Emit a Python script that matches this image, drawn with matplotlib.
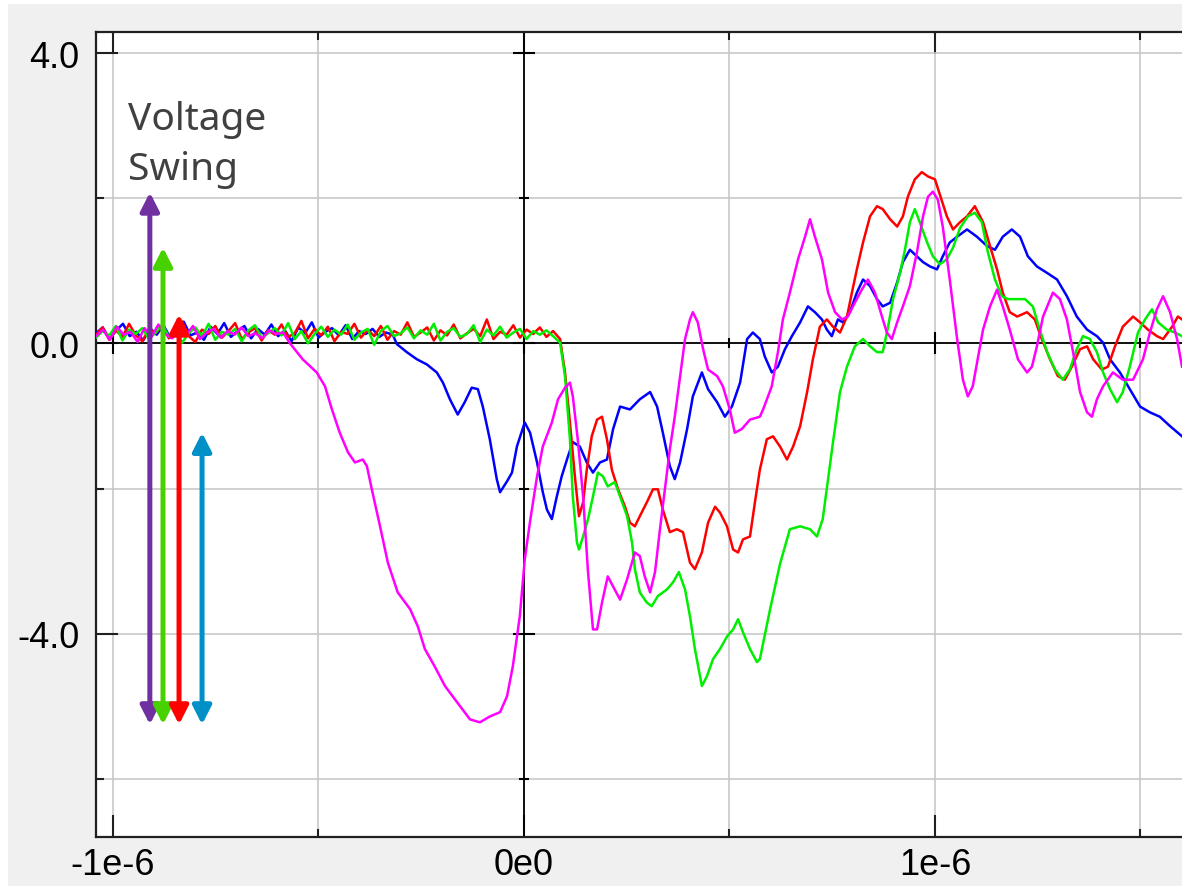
import numpy as np
import matplotlib.pyplot as plt
from matplotlib.patches import Rectangle

# time axis in microseconds, voltages in V
x_major = [-1.0, 0.0, 1.0]
x_minor = [-0.5, 0.5, 1.5]
x_labels = ['-1e-6', '0e0', '1e-6']
y_major = [4.0, 0.0, -4.0]
y_minor = [2.0, -2.0, -6.0]
y_labels = ['4.0', '0.0', '-4.0']

# noisy baseline before each trace starts to move (sampled evenly up to *_flat_end)
blue_flat_end = -0.319
blue_flat = [0.14, 0.22, 0.06, 0.18, 0.27, 0.10, 0.16, 0.04, 0.21, 0.12, 0.25, 0.08,
             0.19, 0.30, 0.11, 0.15, 0.05, 0.23, 0.13, 0.28, 0.09, 0.17, 0.24, 0.07,
             0.20, 0.12, 0.26, 0.10, 0.18, 0.03, 0.22, 0.14, 0.29, 0.08, 0.16, 0.21,
             0.11, 0.25, 0.06, 0.17, 0.13, 0.20, 0.09, 0.15, 0.12]
magenta_flat_end = -0.586
magenta_flat = [0.10, 0.19, 0.05, 0.23, 0.12, 0.16, 0.02, 0.21, 0.09, 0.26, 0.13, 0.07,
                0.18, 0.11, 0.24, 0.06, 0.15, 0.20, 0.08, 0.17, 0.12, 0.22, 0.10, 0.14,
                0.07, 0.18, 0.13, 0.15]
red_flat_end = 0.071
red_flat = [0.12, 0.22, 0.05, 0.18, 0.09, 0.27, 0.11, 0.03, 0.20, 0.14, 0.25, 0.07,
            0.16, 0.30, 0.10, 0.02, 0.19, 0.13, 0.24, 0.08, 0.17, 0.28, 0.06, 0.15,
            0.21, 0.04, 0.18, 0.12, 0.26, 0.09, 0.14, 0.31, 0.07, 0.20, 0.11, 0.23,
            0.03, 0.16, 0.13, 0.27, 0.08, 0.19, 0.10, 0.24, 0.05, 0.17, 0.12, 0.29,
            0.09, 0.15, 0.22, 0.04, 0.18, 0.11, 0.26, 0.07, 0.14, 0.20, 0.10, 0.33,
            0.06, 0.16, 0.12, 0.25, 0.08, 0.19, 0.13, 0.22, 0.09, 0.17]
green_flat_end = 0.071
green_flat = [0.08, 0.17, 0.11, 0.24, 0.04, 0.19, 0.13, 0.21, 0.06, 0.15, 0.26, 0.09,
              0.18, 0.01, 0.14, 0.22, 0.10, 0.27, 0.05, 0.16, 0.12, 0.20, 0.03, 0.18,
              0.25, 0.08, 0.14, 0.21, 0.11, 0.28, 0.06, 0.17, 0.00, 0.13, 0.23, 0.09,
              0.19, 0.12, 0.26, 0.05, 0.15, 0.20, -0.02, 0.17, 0.24, 0.10, 0.14, 0.22,
              0.07, 0.18, 0.12, 0.27, 0.04, 0.16, 0.21, 0.09, 0.13, 0.25, 0.02, 0.19,
              0.11, 0.23, 0.08, 0.15, 0.20, 0.06, 0.17, 0.12, 0.18, 0.10]

# active part of each trace
blue_t = [-0.309, -0.285, -0.260, -0.236, -0.212, -0.197, -0.180, -0.161, -0.144, -0.127,
          -0.112, -0.100, -0.083, -0.066, -0.058, -0.041, -0.029, -0.017, 0.002, 0.015,
          0.032, 0.046, 0.056, 0.068, 0.080, 0.092, 0.107, 0.119, 0.136, 0.153,
          0.168, 0.185, 0.202, 0.217, 0.234, 0.258, 0.282, 0.307, 0.324, 0.338,
          0.355, 0.367, 0.380, 0.397, 0.411, 0.433, 0.448, 0.470, 0.489, 0.506,
          0.526, 0.543, 0.557, 0.574, 0.586, 0.603, 0.618, 0.635, 0.652, 0.672,
          0.691, 0.708, 0.725, 0.737, 0.749, 0.764, 0.776, 0.793, 0.810, 0.825,
          0.842, 0.859, 0.873, 0.891, 0.908, 0.922, 0.939, 0.956, 0.971, 0.988,
          1.005, 1.019, 1.036, 1.054, 1.078, 1.102, 1.127, 1.146, 1.165, 1.187,
          1.207, 1.226, 1.248, 1.273, 1.297, 1.321, 1.345, 1.370, 1.394, 1.409,
          1.426, 1.450, 1.474, 1.499, 1.523, 1.547, 1.572, 1.601]
blue_v = [-0.01, -0.12, -0.22, -0.29, -0.40, -0.54, -0.77, -0.98, -0.81, -0.61,
          -0.63, -0.87, -1.32, -1.87, -2.05, -1.90, -1.78, -1.42, -1.09, -1.23,
          -1.64, -2.05, -2.29, -2.42, -2.11, -1.83, -1.56, -1.36, -1.42, -1.64,
          -1.78, -1.64, -1.60, -1.18, -0.87, -0.91, -0.77, -0.67, -0.87, -1.23,
          -1.69, -1.87, -1.64, -1.18, -0.73, -0.40, -0.63, -0.81, -1.01, -0.87,
          -0.54, 0.06, 0.15, 0.06, -0.18, -0.40, -0.32, -0.08, 0.10, 0.29,
          0.51, 0.43, 0.33, 0.19, 0.10, 0.33, 0.29, 0.43, 0.70, 0.88,
          0.79, 0.61, 0.51, 0.56, 0.84, 1.12, 1.29, 1.20, 1.12, 1.06,
          1.02, 1.20, 1.39, 1.47, 1.57, 1.47, 1.34, 1.29, 1.47, 1.57,
          1.47, 1.20, 1.06, 0.97, 0.88, 0.65, 0.37, 0.19, 0.10, 0.01,
          -0.22, -0.40, -0.63, -0.87, -0.95, -1.01, -1.14, -1.28]

red_t = [0.088, 0.100, 0.112, 0.124, 0.134, 0.144, 0.153, 0.165, 0.178, 0.190,
         0.202, 0.214, 0.229, 0.246, 0.258, 0.270, 0.282, 0.299, 0.314, 0.326,
         0.338, 0.355, 0.372, 0.387, 0.404, 0.416, 0.433, 0.448, 0.465, 0.477,
         0.494, 0.509, 0.521, 0.533, 0.550, 0.562, 0.574, 0.591, 0.606, 0.623,
         0.640, 0.655, 0.672, 0.689, 0.703, 0.720, 0.737, 0.752, 0.769, 0.786,
         0.798, 0.810, 0.825, 0.842, 0.859, 0.873, 0.891, 0.908, 0.922, 0.934,
         0.951, 0.968, 0.983, 1.000, 1.012, 1.029, 1.044, 1.061, 1.078, 1.097,
         1.117, 1.134, 1.151, 1.165, 1.182, 1.200, 1.224, 1.243, 1.260, 1.280,
         1.299, 1.316, 1.333, 1.353, 1.370, 1.385, 1.406, 1.421, 1.438, 1.457,
         1.482, 1.499, 1.518, 1.540, 1.555, 1.577, 1.591, 1.601]
red_v = [0.06, -0.40, -1.09, -1.83, -2.38, -2.19, -1.74, -1.28, -1.05, -1.01,
         -1.32, -1.74, -2.01, -2.25, -2.47, -2.52, -2.38, -2.19, -2.01, -2.01,
         -2.29, -2.60, -2.56, -2.60, -3.02, -3.11, -2.88, -2.47, -2.25, -2.33,
         -2.52, -2.84, -2.88, -2.70, -2.66, -2.19, -1.74, -1.32, -1.28, -1.42,
         -1.60, -1.42, -1.14, -0.67, -0.22, 0.23, 0.33, 0.23, 0.15, 0.37,
         0.70, 1.02, 1.39, 1.75, 1.89, 1.85, 1.71, 1.61, 1.75, 2.02,
         2.26, 2.36, 2.30, 2.26, 2.05, 1.75, 1.57, 1.67, 1.75, 1.89,
         1.67, 1.34, 1.02, 0.70, 0.43, 0.37, 0.43, 0.33, 0.06, -0.22,
         -0.45, -0.50, -0.32, -0.08, -0.04, -0.22, -0.36, -0.32, -0.04, 0.23,
         0.37, 0.29, 0.19, 0.10, 0.06, 0.23, 0.37, 0.33]

green_t = [0.088, 0.100, 0.112, 0.119, 0.129, 0.134, 0.144, 0.156, 0.168, 0.180,
           0.192, 0.204, 0.221, 0.234, 0.251, 0.263, 0.270, 0.282, 0.299, 0.311,
           0.326, 0.348, 0.363, 0.377, 0.392, 0.404, 0.416, 0.433, 0.445, 0.460,
           0.477, 0.494, 0.509, 0.521, 0.533, 0.550, 0.567, 0.574, 0.599, 0.623,
           0.647, 0.672, 0.696, 0.713, 0.727, 0.740, 0.752, 0.769, 0.786, 0.805,
           0.825, 0.842, 0.859, 0.873, 0.886, 0.898, 0.915, 0.927, 0.939, 0.951,
           0.963, 0.981, 0.995, 1.012, 1.029, 1.044, 1.061, 1.080, 1.097, 1.114,
           1.129, 1.146, 1.163, 1.178, 1.200, 1.219, 1.238, 1.255, 1.273, 1.292,
           1.311, 1.328, 1.345, 1.360, 1.377, 1.394, 1.409, 1.426, 1.443, 1.457,
           1.474, 1.494, 1.511, 1.528, 1.543, 1.564, 1.584, 1.601]
green_v = [0.01, -0.45, -1.32, -2.11, -2.74, -2.84, -2.66, -2.42, -2.11, -1.78,
           -1.83, -1.97, -1.91, -2.11, -2.38, -2.74, -3.11, -3.43, -3.57, -3.62,
           -3.48, -3.39, -3.29, -3.15, -3.39, -3.76, -4.21, -4.72, -4.59, -4.35,
           -4.21, -4.04, -3.94, -3.80, -3.98, -4.21, -4.39, -4.35, -3.66, -3.04,
           -2.56, -2.52, -2.56, -2.66, -2.42, -1.87, -1.36, -0.67, -0.32, -0.04,
           0.06, -0.04, -0.12, -0.12, 0.23, 0.61, 0.97, 1.29, 1.67, 1.85,
           1.67, 1.39, 1.20, 1.09, 1.16, 1.32, 1.59, 1.75, 1.80, 1.67,
           1.25, 0.88, 0.65, 0.61, 0.61, 0.61, 0.51, 0.19, -0.12, -0.36,
           -0.50, -0.36, -0.08, 0.10, 0.06, -0.12, -0.40, -0.63, -0.81, -0.67,
           -0.32, 0.15, 0.33, 0.47, 0.29, 0.19, 0.15, 0.10]

magenta_t = [-0.569, -0.538, -0.504, -0.484, -0.467, -0.448, -0.428, -0.411, -0.392, -0.382,
             -0.370, -0.350, -0.331, -0.307, -0.277, -0.258, -0.241, -0.217, -0.192, -0.163,
             -0.131, -0.107, -0.083, -0.058, -0.041, -0.027, -0.010, 0.002, 0.015, 0.032,
             0.046, 0.068, 0.083, 0.100, 0.112, 0.119, 0.131, 0.144, 0.156, 0.168,
             0.178, 0.190, 0.204, 0.217, 0.234, 0.251, 0.270, 0.282, 0.294, 0.307,
             0.319, 0.331, 0.343, 0.355, 0.367, 0.380, 0.392, 0.404, 0.411, 0.423,
             0.436, 0.448, 0.470, 0.484, 0.501, 0.513, 0.530, 0.550, 0.574, 0.582,
             0.603, 0.618, 0.630, 0.647, 0.667, 0.684, 0.696, 0.708, 0.725, 0.740,
             0.757, 0.774, 0.788, 0.805, 0.822, 0.837, 0.854, 0.871, 0.883, 0.895,
             0.908, 0.922, 0.939, 0.956, 0.971, 0.983, 0.995, 1.007, 1.019, 1.036,
             1.054, 1.068, 1.080, 1.092, 1.105, 1.117, 1.134, 1.151, 1.165, 1.182,
             1.202, 1.224, 1.236, 1.248, 1.263, 1.287, 1.304, 1.321, 1.336, 1.353,
             1.370, 1.382, 1.394, 1.409, 1.433, 1.457, 1.482, 1.506, 1.523, 1.540,
             1.555, 1.572, 1.589, 1.601]
magenta_v = [0.00, -0.22, -0.40, -0.59, -0.91, -1.23, -1.50, -1.64, -1.60, -1.69,
             -2.01, -2.52, -3.02, -3.43, -3.66, -3.90, -4.21, -4.45, -4.72, -4.94,
             -5.18, -5.22, -5.14, -5.08, -4.86, -4.45, -3.76, -2.98, -2.45, -1.83,
             -1.42, -1.09, -0.77, -0.61, -0.54, -0.73, -1.32, -2.11, -3.15, -3.94,
             -3.94, -3.57, -3.21, -3.35, -3.53, -3.25, -2.88, -2.93, -3.21, -3.43,
             -3.15, -2.56, -2.01, -1.46, -1.01, -0.45, 0.06, 0.33, 0.43, 0.29,
             -0.08, -0.36, -0.45, -0.59, -0.91, -1.23, -1.18, -1.05, -1.01, -0.91,
             -0.59, -0.12, 0.33, 0.70, 1.16, 1.47, 1.71, 1.47, 1.16, 0.70,
             0.43, 0.33, 0.37, 0.56, 0.74, 0.88, 0.70, 0.37, 0.15, 0.06,
             0.29, 0.51, 0.79, 1.25, 1.75, 2.02, 2.09, 1.98, 1.61, 0.88,
             0.06, -0.50, -0.73, -0.59, -0.18, 0.19, 0.51, 0.74, 0.51, 0.19,
             -0.22, -0.40, -0.32, -0.04, 0.37, 0.70, 0.61, 0.33, -0.12, -0.67,
             -0.95, -1.01, -0.77, -0.59, -0.40, -0.50, -0.50, -0.22, 0.15, 0.47,
             0.65, 0.43, 0.06, -0.32]

# voltage swing annotation arrows
arrow_t = [-0.910, -0.878, -0.839, -0.783]
arrow_top = [2.08, 1.32, 0.40, -1.23]
arrow_bottom = [-5.25, -5.25, -5.25, -5.25]
arrow_colors = ['#7030A0', '#47D200', '#FF0000', '#0090C8']

t_start = -1.041
W, H = 1182, 887


def trace(flat, flat_end, t, v):
    tf = np.linspace(t_start, flat_end, len(flat))
    return np.concatenate([tf, t]) * 1e-6, np.concatenate([flat, v])


fig = plt.figure(figsize=(W / 100, H / 100), dpi=100, facecolor='white')
fig.patches.append(Rectangle((8 / W, 0), 1, 1 - 5 / H, transform=fig.transFigure,
                             facecolor='#f0f0f0', edgecolor='none', zorder=-10))
ax = fig.add_axes([96 / W, 49 / H, 1 - 96 / W, 805 / H])
ax.set_facecolor('white')

ax.set_xlim(t_start * 1e-6, 1.601e-6)
ax.set_ylim(-6.8, 4.29)

ax.set_xticks([x * 1e-6 for x in x_major])
ax.set_xticklabels(x_labels)
ax.set_xticks([x * 1e-6 for x in x_minor], minor=True)
ax.set_yticks(y_major)
ax.set_yticklabels(y_labels)
ax.set_yticks(y_minor, minor=True)
ax.tick_params(which='both', direction='in', top=True, right=False, width=1.5, color='#202020')
ax.tick_params(which='major', length=16, labelsize=26, pad=12)
ax.tick_params(axis='x', which='major', pad=7)
ax.tick_params(which='minor', length=6)
for lab in ax.get_xticklabels() + ax.get_yticklabels():
    lab.set_family('Liberation Sans')

for side in ['left', 'top', 'bottom']:
    ax.spines[side].set_linewidth(1.6)
    ax.spines[side].set_color('#202020')
ax.spines['right'].set_visible(False)

ax.grid(which='both', color='#c8c8c8', linewidth=1.2)
ax.set_axisbelow(True)

# axes through the origin with their own little ticks
ax.axhline(0, color='black', linewidth=1.3, zorder=1.5)
ax.axvline(0, color='black', linewidth=1.3, zorder=1.5)
ax.plot([x * 1e-6 for x in x_major], [0] * len(x_major), '|', ms=16, mew=1.5, color='black', zorder=1.5)
ax.plot([x * 1e-6 for x in x_minor], [0] * len(x_minor), '|', ms=7, mew=1.5, color='black', zorder=1.5)
ax.plot([0] * len(y_major), y_major, '_', ms=16, mew=1.5, color='black', zorder=1.5)
ax.plot([0] * len(y_minor), y_minor, '_', ms=7, mew=1.5, color='black', zorder=1.5)

for flat, end, t, v, c in [(blue_flat, blue_flat_end, blue_t, blue_v, '#0000FF'),
                           (red_flat, red_flat_end, red_t, red_v, '#FF0000'),
                           (green_flat, green_flat_end, green_t, green_v, '#00EE00'),
                           (magenta_flat, magenta_flat_end, magenta_t, magenta_v, '#FF00FF')]:
    x, y = trace(flat, end, t, v)
    ax.plot(x, y, color=c, linewidth=1.8, zorder=3)

for t, top, bot, c in zip(arrow_t, arrow_top, arrow_bottom, arrow_colors):
    ax.annotate('', xy=(t * 1e-6, bot), xytext=(t * 1e-6, top),
                arrowprops=dict(arrowstyle='<|-|>,head_length=0.55,head_width=0.28',
                                mutation_scale=20, lw=3.6, color=c, shrinkA=0, shrinkB=0),
                zorder=5)

fig.text(128 / W, 1 - 130 / H, 'Voltage', family='Noto Sans', fontsize=28, color='#404040')
fig.text(128 / W, 1 - 180 / H, 'Swing', family='Noto Sans', fontsize=28, color='#404040')

fig.savefig('out.png', dpi=100, facecolor=fig.get_facecolor())
